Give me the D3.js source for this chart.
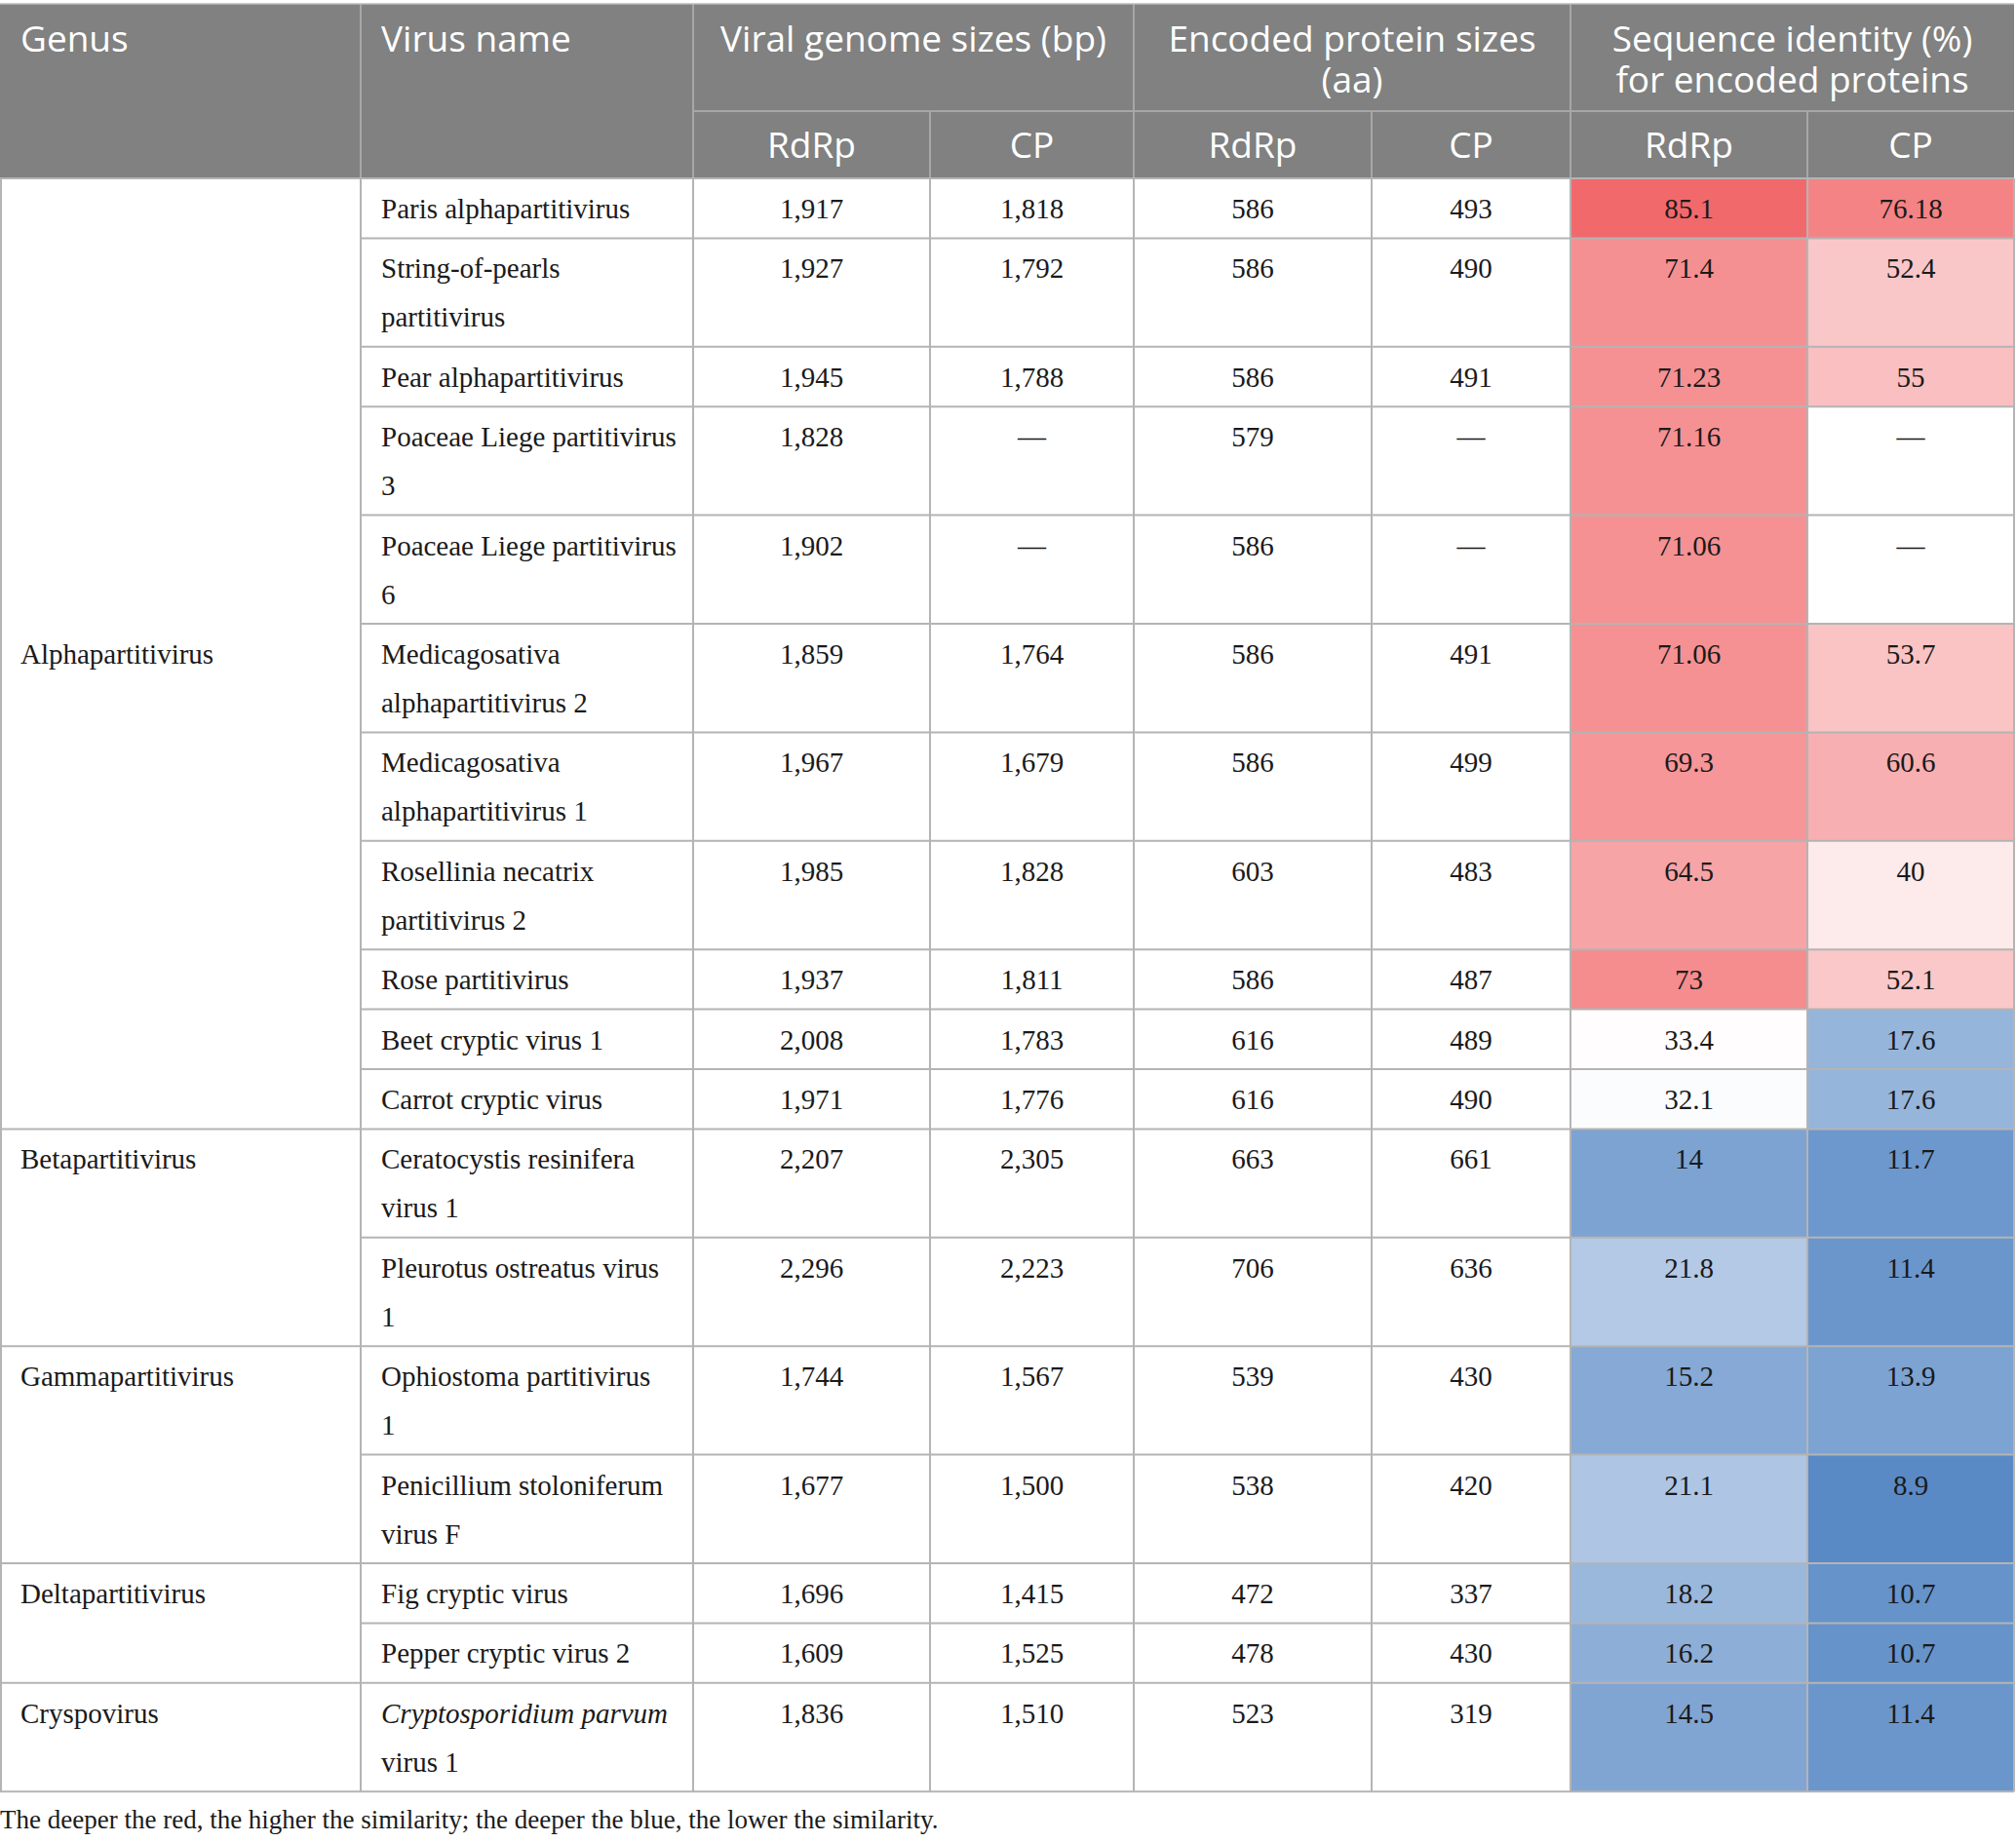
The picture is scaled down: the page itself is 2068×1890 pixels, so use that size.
<!DOCTYPE html>
<html>
<head>
<meta charset="utf-8">
<script src="https://cdn.jsdelivr.net/npm/d3@7/dist/d3.min.js"></script>
<style>
  html, body { margin: 0; padding: 0; background: #ffffff; }
  svg { display: block; }
</style>
</head>
<body>
<svg id="chart" width="2068" height="1890"></svg>
<script>
// ---------------- DATA ----------------
const genera = ["Alphapartitivirus", "Betapartitivirus", "Gammapartitivirus", "Deltapartitivirus", "Cryspovirus"];
const genusSpans = [11, 2, 2, 2, 1];

const virusNames = [
  "Paris alphapartitivirus",
  "String-of-pearls\npartitivirus",
  "Pear alphapartitivirus",
  "Poaceae Liege partitivirus\n3",
  "Poaceae Liege partitivirus\n6",
  "Medicagosativa\nalphapartitivirus 2",
  "Medicagosativa\nalphapartitivirus 1",
  "Rosellinia necatrix\npartitivirus 2",
  "Rose partitivirus",
  "Beet cryptic virus 1",
  "Carrot cryptic virus",
  "Ceratocystis resinifera\nvirus 1",
  "Pleurotus ostreatus virus\n1",
  "Ophiostoma partitivirus\n1",
  "Penicillium stoloniferum\nvirus F",
  "Fig cryptic virus",
  "Pepper cryptic virus 2",
  "*Cryptosporidium parvum*\nvirus 1"
];

const genomeRdRp  = [1917, 1927, 1945, 1828, 1902, 1859, 1967, 1985, 1937, 2008, 1971, 2207, 2296, 1744, 1677, 1696, 1609, 1836];
const genomeCP    = [1818, 1792, 1788, null, null, 1764, 1679, 1828, 1811, 1783, 1776, 2305, 2223, 1567, 1500, 1415, 1525, 1510];
const proteinRdRp = [586, 586, 586, 579, 586, 586, 586, 603, 586, 616, 616, 663, 706, 539, 538, 472, 478, 523];
const proteinCP   = [493, 490, 491, null, null, 491, 499, 483, 487, 489, 490, 661, 636, 430, 420, 337, 430, 319];
const identityRdRp = [85.1, 71.4, 71.23, 71.16, 71.06, 71.06, 69.3, 64.5, 73, 33.4, 32.1, 14, 21.8, 15.2, 21.1, 18.2, 16.2, 14.5];
const identityCP   = [76.18, 52.4, 55, null, null, 53.7, 60.6, 40, 52.1, 17.6, 17.6, 11.7, 11.4, 13.9, 8.9, 10.7, 10.7, 11.4];

const topHeaders = ["Genus", "Virus name"];
const groupHeaders = ["Viral genome sizes (bp)", "Encoded protein sizes\n(aa)", "Sequence identity (%)\nfor encoded proteins"];
const subHeaders = ["RdRp", "CP"];
const footnote = "The deeper the red, the higher the similarity; the deeper the blue, the lower the similarity.";

// ---------------- LAYOUT ----------------
const colWidths = [370, 341, 243, 209, 244, 204, 243, 212];
const tableTop = 4, subLineY = 114, headerBottom = 183;
const rowBase = 61.4, lineStep = 50, firstBaseline = 41, padX = 21;

const HEAD_BG = "#808180", HEAD_LINE = "#a6a7a6", BODY_LINE = "#b4b4b4";
const SERIF = "'Liberation Serif', 'Times New Roman', serif";
const SANS = "'Open Sans', 'Noto Sans', sans-serif";

const svg = d3.select("#chart");

const colStarts = d3.cumsum([0, ...colWidths.slice(0, -1)]);
const x = d3.scaleOrdinal().domain(d3.range(colWidths.length)).range(Array.from(colStarts));
const w = d3.scaleOrdinal().domain(d3.range(colWidths.length)).range(colWidths);
const tableRight = colStarts[colStarts.length - 1] + colWidths[colWidths.length - 1];

const nRows = virusNames.length;
const rowLines = virusNames.map(n => n.split("\n").length);
const rowHeights = rowLines.map(l => rowBase + lineStep * (l - 1));
const rowStarts = Array.from(d3.cumsum([headerBottom, ...rowHeights.slice(0, -1)]));
const y = d3.scaleOrdinal().domain(d3.range(nRows)).range(rowStarts);
const h = d3.scaleOrdinal().domain(d3.range(nRows)).range(rowHeights);
const tableBottom = rowStarts[nRows - 1] + rowHeights[nRows - 1];

// colour scale (red-white-blue, midpoint = median of all identities)
const allId = identityRdRp.concat(identityCP).filter(v => v != null);
const color = d3.scaleLinear()
  .domain([d3.min(allId), d3.median(allId), d3.max(allId)])
  .range(["#5a8ac6", "#ffffff", "#f2696c"]);

// helper: multi-line text with *italic* segments
function drawText(g, str, tx, ty, anchor, opts) {
  const lines = str.split("\n");
  const t = g.append("text")
    .attr("x", tx).attr("y", ty)
    .attr("text-anchor", anchor)
    .attr("font-family", opts.family)
    .attr("font-size", opts.size)
    .attr("fill", opts.fill);
  lines.forEach((line, li) => {
    const parts = line.split("*");
    parts.forEach((p, pi) => {
      if (p === "") return;
      const ts = t.append("tspan").text(p);
      if (pi === 0 || (pi > 0 && t.selectAll("tspan").size() === 1 && li > 0)) {}
      if (pi % 2 === 1) ts.attr("font-style", "italic");
      if (ts.node() === t.selectAll("tspan").nodes().filter(n => true).find((n, k, arr) => {
        return false;
      })) {}
    });
  });
  // position line starts
  let lineIdx = 0;
  t.selectAll("tspan").remove();
  lines.forEach((line, li) => {
    const parts = line.split("*");
    let first = true;
    parts.forEach((p, pi) => {
      if (p === "") return;
      const ts = t.append("tspan").text(p);
      if (pi % 2 === 1) ts.attr("font-style", "italic");
      if (first) { ts.attr("x", tx).attr("y", ty + li * opts.step); first = false; }
    });
  });
  return t;
}

// ---------------- HEADER ----------------
const head = svg.append("g");
head.append("rect")
  .attr("x", 0).attr("y", tableTop)
  .attr("width", tableRight).attr("height", headerBottom - tableTop)
  .attr("fill", HEAD_BG);

const headOpts = { family: SANS, size: 37, fill: "#ffffff", step: 42 };
drawText(head, topHeaders[0], x(0) + padX, 53, "start", headOpts);
drawText(head, topHeaders[1], x(1) + padX, 53, "start", headOpts);
groupHeaders.forEach((gh, gi) => {
  const c0 = 2 + gi * 2;
  const cx = x(c0) + (w(c0) + w(c0 + 1)) / 2;
  drawText(head, gh, cx, 53, "middle", headOpts);
  subHeaders.forEach((sh, si) => {
    const c = c0 + si;
    drawText(head, sh, x(c) + w(c) / 2, 162, "middle", headOpts);
  });
});

// header lines
const hl = head.append("g").attr("stroke", HEAD_LINE).attr("stroke-width", 2);
hl.append("line").attr("x1", x(2)).attr("x2", tableRight).attr("y1", subLineY).attr("y2", subLineY);
d3.range(1, colWidths.length).forEach(c => {
  const full = (c % 2 === 0);   // group boundaries span full header height
  hl.append("line")
    .attr("x1", x(c)).attr("x2", x(c))
    .attr("y1", full || c === 1 ? tableTop : subLineY)
    .attr("y2", headerBottom);
});
head.append("line").attr("x1", 0).attr("x2", tableRight).attr("y1", tableTop).attr("y2", tableTop)
  .attr("stroke", "#b8b8b8").attr("stroke-width", 1.5);

// ---------------- BODY ----------------
const body = svg.append("g");
const bodyOpts = { family: SERIF, size: 29, fill: "#1a1a1a", step: lineStep };

// heat cells
[identityRdRp, identityCP].forEach((arr, k) => {
  const c = 6 + k;
  body.append("g").selectAll("rect").data(arr).join("rect")
    .attr("x", x(c)).attr("y", (d, i) => y(i))
    .attr("width", w(c)).attr("height", (d, i) => h(i))
    .attr("fill", d => d == null ? "#ffffff" : color(d));
});

const fmtBp = d3.format(",");
const dash = "\u2014";
const columns = [
  null,
  { vals: virusNames, fmt: v => v, align: "start" },
  { vals: genomeRdRp, fmt: v => fmtBp(v), align: "middle" },
  { vals: genomeCP, fmt: v => fmtBp(v), align: "middle" },
  { vals: proteinRdRp, fmt: v => String(v), align: "middle" },
  { vals: proteinCP, fmt: v => String(v), align: "middle" },
  { vals: identityRdRp, fmt: v => String(v), align: "middle" },
  { vals: identityCP, fmt: v => String(v), align: "middle" }
];

const textG = body.append("g");
columns.forEach((col, c) => {
  if (!col) return;
  col.vals.forEach((v, i) => {
    const s = v == null ? dash : col.fmt(v);
    const tx = col.align === "start" ? x(c) + padX : x(c) + w(c) / 2;
    drawText(textG, s, tx, y(i) + firstBaseline, col.align, bodyOpts);
  });
});

// genus cells
let startRow = 0;
const groupStarts = [];
genera.forEach((g, gi) => {
  const span = genusSpans[gi];
  const top = y(startRow);
  const bottom = startRow + span < nRows ? y(startRow + span) : tableBottom;
  const ty = span > 2 ? (top + bottom) / 2 + 10 : top + firstBaseline;
  drawText(textG, g, x(0) + padX, ty, "start", bodyOpts);
  groupStarts.push(startRow);
  startRow += span;
});

// body lines
const bl = body.append("g").attr("stroke", BODY_LINE).attr("stroke-width", 2);
d3.range(1, nRows).forEach(i => {
  const isGroupStart = groupStarts.includes(i);
  bl.append("line")
    .attr("x1", isGroupStart ? 0 : x(1)).attr("x2", tableRight)
    .attr("y1", y(i)).attr("y2", y(i));
});
bl.append("line").attr("x1", 0).attr("x2", tableRight).attr("y1", tableBottom).attr("y2", tableBottom);
bl.append("line").attr("x1", 0).attr("x2", tableRight).attr("y1", headerBottom).attr("y2", headerBottom);
d3.range(1, colWidths.length).forEach(c => {
  bl.append("line").attr("x1", x(c)).attr("x2", x(c)).attr("y1", headerBottom).attr("y2", tableBottom);
});
bl.append("line").attr("x1", 1).attr("x2", 1).attr("y1", headerBottom).attr("y2", tableBottom);
bl.append("line").attr("x1", tableRight).attr("x2", tableRight).attr("y1", headerBottom).attr("y2", tableBottom);

// ---------------- FOOTNOTE ----------------
svg.append("text")
  .attr("x", 0).attr("y", tableBottom + 38)
  .attr("font-family", SERIF).attr("font-size", 27).attr("fill", "#1a1a1a")
  .text(footnote);
</script>
</body>
</html>
